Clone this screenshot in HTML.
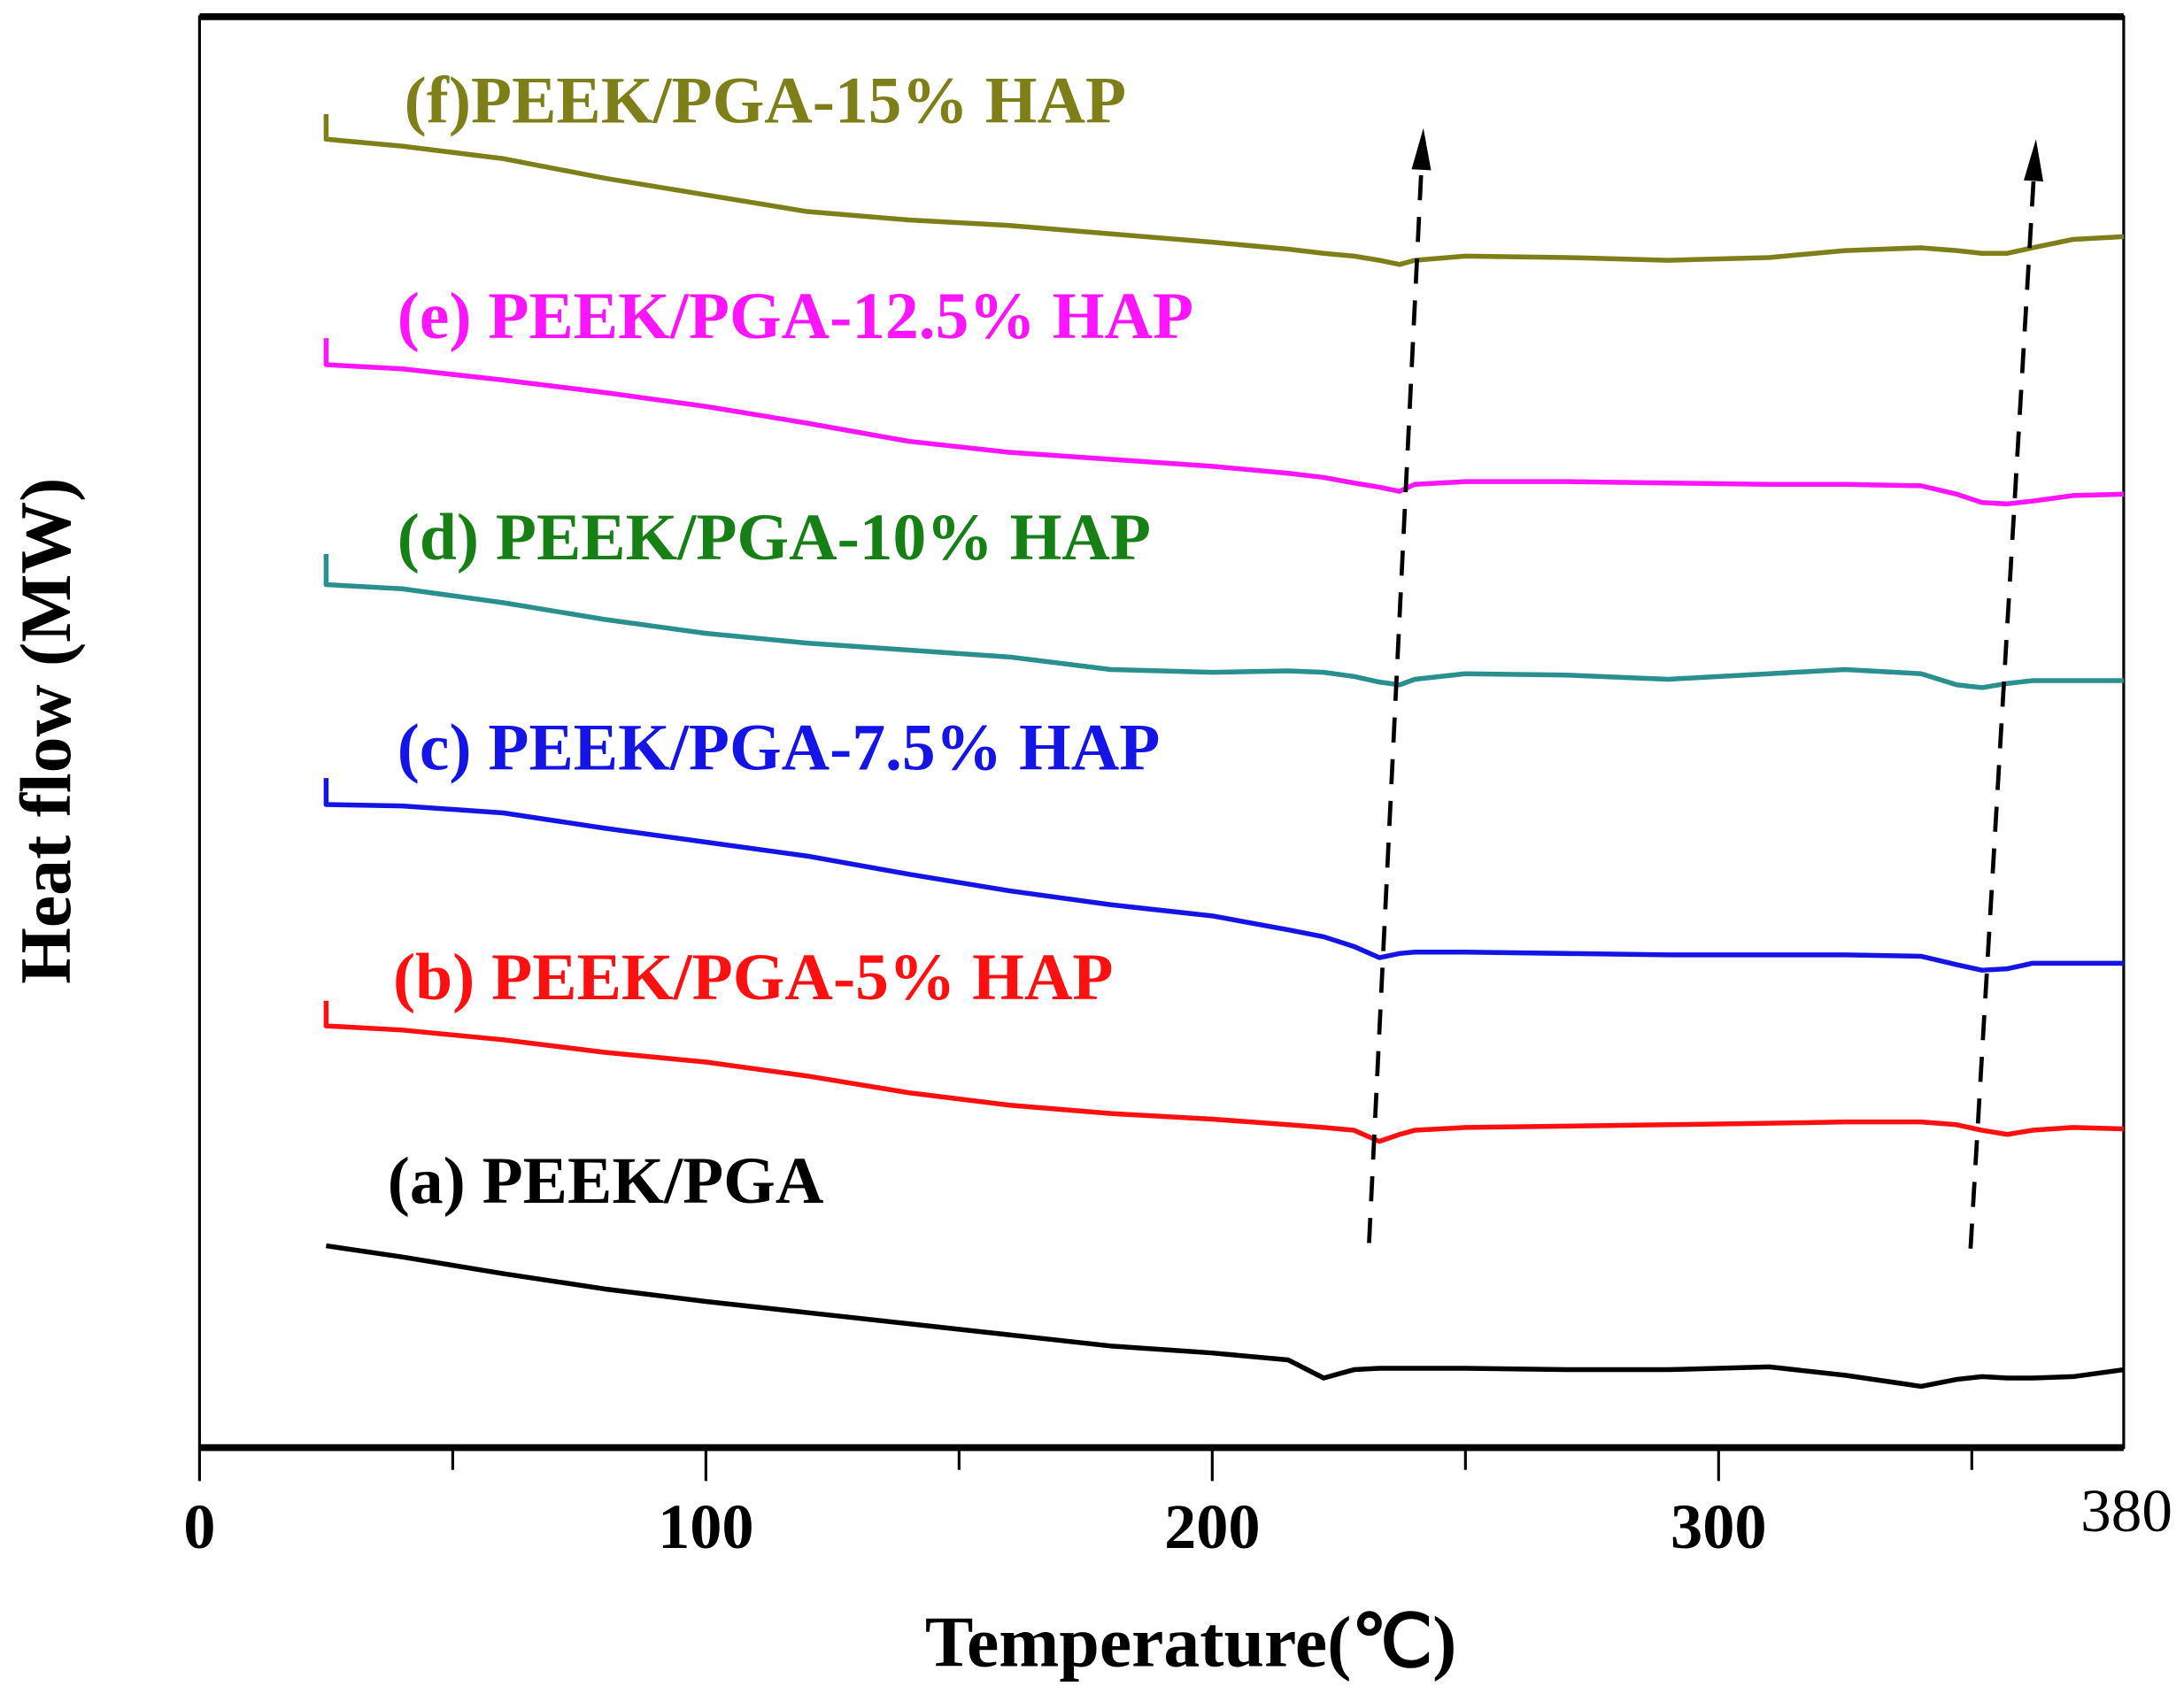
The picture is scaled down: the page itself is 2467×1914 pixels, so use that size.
<!DOCTYPE html>
<html><head><meta charset="utf-8"><style>
html,body{margin:0;padding:0;background:#fff}
svg{display:block}
text{font-family:"Liberation Serif",serif;font-weight:bold}
</style></head><body>
<svg id="chart" width="2467" height="1914" viewBox="0 0 1568 1217" xmlns="http://www.w3.org/2000/svg">
<g id="plot"></g>
<text x="855" y="1197" font-size="52" text-anchor="middle">Temperature(℃)</text>
<text transform="translate(50,525) rotate(-90)" font-size="52" text-anchor="middle">Heat flow (MW)</text>
</svg>
<script>
const temps=[25,40,60,80,100,120,140,160,180,200,215,222,228,233,237,240,250,270,290,310,325,340,347,352,357,362,370,380];
const seriesA=[145,137,125,114,105,97,89,81,73,68,63,50,56,57,57,57,57,56,56,58,52,44,49,51,50,50,51,56];
const seriesB=[303,300,293,284,277,267,255,246,240,236,232,230,228,220,225,228,230,231,232,233,234,234,232,228,225,228,230,229];
const seriesC=[462,461,456,445,435,425,412,400,390,382,372,367,360,352,355,356,356,355,354,354,354,353,347,343,344,348,348,348];
const seriesD=[620,617,607,595,585,578,573,568,559,557,558,557,554,550,548,552,556,555,552,556,559,556,548,546,549,551,551,551];
const seriesE=[778,775,767,758,748,736,723,715,710,705,700,697,693,690,687,692,694,694,693,692,692,691,685,679,678,680,684,685];
const seriesF=[940,935,926,912,900,888,882,878,872,866,861,858,856,853,850,853,856,855,853,855,860,862,860,858,858,862,868,870];
const startTicks=[0,18,19,22,19,18];
const xTicks=[0,100,200,300];
const labels=["(a) PEEK/PGA","(b) PEEK/PGA-5% HAP","(c) PEEK/PGA-7.5% HAP","(d) PEEK/PGA-10% HAP","(e) PEEK/PGA-12.5% HAP","(f)PEEK/PGA-15% HAP"];

const L=143,R=1525,T=12,B=1040;
const x=t=>L+t*(R-L)/380;
const y=v=>B-v;
const ns="http://www.w3.org/2000/svg";
const g=document.getElementById('plot');
function mk(tag,attrs){const e=document.createElementNS(ns,tag);for(const k in attrs)e.setAttribute(k,attrs[k]);g.appendChild(e);return e;}

let fr=mk('rect',{x:L,y:T,width:R-L,height:B-T,fill:'none',stroke:'#000','stroke-width':2});


let tl=mk('line',{x1:L,y1:T,x2:R,y2:T,stroke:'#000','stroke-width':5});


let xa=mk('line',{x1:L,y1:B,x2:R,y2:B,stroke:'#000','stroke-width':5});


for(let t=0;t<=380;t+=50){
  const big=t%100===0;
  let tk=mk('line',{x1:x(t),y1:B,x2:x(t),y2:B+(big?24:16),stroke:'#000','stroke-width':2});
  
  
}
xTicks.forEach(t=>{
  let tx=mk('text',{x:x(t),y:1112,'font-size':46,'text-anchor':'middle'});
  tx.textContent=t;
  
  
});
let t380=mk('text',{x:1527,y:1100,'font-size':44,'text-anchor':'middle',style:'font-weight:normal'});
t380.textContent='380';



const series=[seriesA,seriesB,seriesC,seriesD,seriesE,seriesF];
const colors=['#000000','#ff1010','#1414e6','#2a8f8f','#ff14ff','#7f7f1a'];
const labColors=['#000000','#ff1010','#1414e6','#168016','#ff14ff','#7f7f1a'];
const labPos=[[278,864],[282,718],[285,553],[285,402],[285,243],[290,88]];
const names=['a','b','c','d','e','f'];
series.forEach((s,i)=>{
  let d='';
  if(startTicks[i]>0) d+='M'+x(temps[0])+','+y(s[0]+startTicks[i])+' L'+x(temps[0])+','+y(s[0])+' ';
  s.forEach((v,j)=>{d+=(j===0&&!startTicks[i]?'M':'L')+x(temps[j]).toFixed(1)+','+y(v).toFixed(1)+' ';});
  let p=mk('path',{d:d,fill:'none',stroke:colors[i],'stroke-width':3.5,'stroke-linejoin':'round'});
  
  
  let lb=mk('text',{x:labPos[i][0],y:labPos[i][1],'font-size':48,fill:labColors[i]});
  lb.textContent=labels[i];
  
  
});
function arrow(x1,y1,x2,y2,name){
  const ang=Math.atan2(y2-y1,x2-x1),hl=30,hw=7;
  const bx=x2-hl*Math.cos(ang),by=y2-hl*Math.sin(ang);
  let ln=mk('line',{x1:x1,y1:y1,x2:bx,y2:by,stroke:'#000','stroke-width':3,'stroke-dasharray':'18,12'});
  
  
  const px=-Math.sin(ang)*hw,py=Math.cos(ang)*hw;
  let hd=mk('polygon',{points:`${x2},${y2} ${bx+px},${by+py} ${bx-px},${by-py}`,fill:'#000'});
  
  
}
arrow(983,893,1022,92,'arrow-left');
arrow(1415,897,1462,100,'arrow-right');
</script>
</body></html>
